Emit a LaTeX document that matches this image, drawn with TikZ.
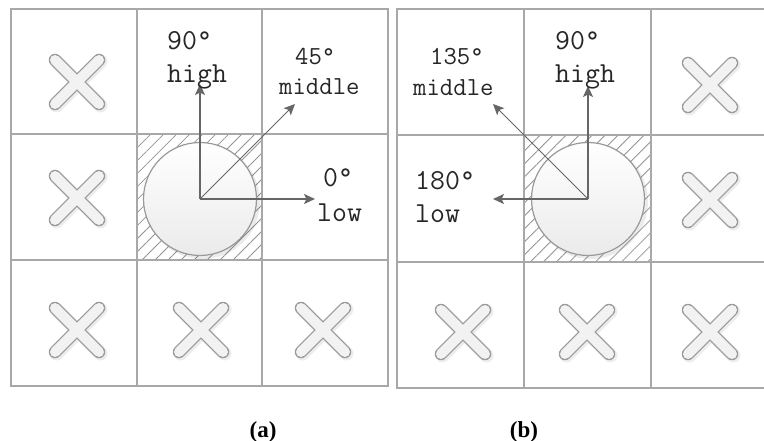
\documentclass[tikz,border=0pt]{standalone}
\usepackage{fontspec}
\setmainfont{Liberation Serif}
\usetikzlibrary{arrows.meta,patterns.meta,calc}
\definecolor{gridc}{HTML}{A8A8A8}
\definecolor{arrc}{HTML}{666666}
\definecolor{xedge}{HTML}{9A9A9A}
\definecolor{xfill}{HTML}{F2F2F2}
\newcommand{\crossmark}[1]{%
  \draw[line width=14pt,line cap=round,black,opacity=0.07] ($(#1)+(-20.5,-20.5)$) -- ($(#1)+(23.5,23.5)$) ($(#1)+(-20.5,23.5)$) -- ($(#1)+(23.5,-20.5)$);
  \draw[xarm,line width=12.5pt,xedge] ($(#1)+(-22,-22)$) -- ($(#1)+(22,22)$) ($(#1)+(-22,22)$) -- ($(#1)+(22,-22)$);
  \draw[xarm,line width=10pt,xfill] ($(#1)+(-22,-22)$) -- ($(#1)+(22,22)$) ($(#1)+(-22,22)$) -- ($(#1)+(22,-22)$);}
\tikzset{
  gridline/.style={draw=gridc,line width=1.6pt},
  hatch/.style={pattern={Lines[angle=45,distance=9.2pt,line width=0.8pt]},pattern color=gray!85},
  ball/.style={circle,inner sep=0pt,minimum size=113pt,draw=gray!80,line width=1.2pt,top color=white,bottom color=gray!16},
  arr/.style={draw=arrc,line width=1.5pt,-{Stealth[length=11pt,width=10pt,inset=2.5pt]}},
  darr/.style={draw=arrc,line width=1pt,-{Stealth[length=11pt,width=10pt,inset=2.5pt]}},
  xarm/.style={line cap=round},
  big/.style={inner sep=0pt,text=black!85,font=\ttfamily\fontsize{29}{33}\selectfont},
  mid/.style={inner sep=0pt,text=black!85,font=\ttfamily\fontsize{26}{30}\selectfont},
  captext/.style={inner sep=0pt,font=\bfseries\fontsize{23}{26}\selectfont},
}
\begin{document}
\begin{tikzpicture}[x=1pt,y=-1pt]
\useasboundingbox (0,0) rectangle (764,441);
\clip (0,0) rectangle (764,441);
% ---------- panel (a) ----------
\fill[hatch] (137,134) rectangle (262,260);
\draw[gridline] (11,9) rectangle (388,386);
\draw[gridline] (137,9) -- (137,386) (262,9) -- (262,386) (11,134) -- (388,134) (11,260) -- (388,260);
\fill[black,opacity=0.08] (202.5,201.5) circle (57.5);
\node[ball] (ba) at (200,199) {};
\coordinate (a90) at (200,84);
\coordinate (a45) at (295,104);
\coordinate (a0) at (315,199);
\draw[arr] (ba.center) -- (a90);
\draw[darr] (ba.center) -- (a45);
\draw[arr] (ba.center) -- (a0);
\node[big,anchor=base west] (ta90) at (167,50) {90°};
\node[big,anchor=base west] (tahigh) at (167,83) {high};
\node[mid,anchor=base west] (ta45) at (295,65) {45°};
\node[mid,anchor=base west] (tamid) at (279,95) {middle};
\node[big,anchor=base west] (ta0) at (323,187) {0°};
\node[big,anchor=base west] (talow) at (317,222) {low};
\coordinate (xa1) at (77,82);
\coordinate (xa2) at (77,198);
\coordinate (xa3) at (77,330);
\coordinate (xa4) at (201,330);
\coordinate (xa5) at (323,330);
\crossmark{xa1}\crossmark{xa2}\crossmark{xa3}\crossmark{xa4}\crossmark{xa5}
% ---------- panel (b) ----------
\fill[hatch] (524,135) rectangle (651,262);
\draw[gridline] (397,9) rectangle (780,388);
\draw[gridline] (524,9) -- (524,388) (651,9) -- (651,388) (397,135) -- (780,135) (397,262) -- (780,262);
\fill[black,opacity=0.08] (590.5,201.5) circle (57.5);
\node[ball] (bb) at (588,199) {};
\coordinate (b90) at (588,86);
\coordinate (b135) at (493,104);
\coordinate (b180) at (493,199);
\draw[arr] (bb.center) -- (b90);
\draw[darr] (bb.center) -- (b135);
\draw[arr] (bb.center) -- (b180);
\node[mid,anchor=base west] (tb135) at (430,65) {135°};
\node[mid,anchor=base west] (tbmid) at (413,96) {middle};
\node[big,anchor=base west] (tb90) at (555,50) {90°};
\node[big,anchor=base west] (tbhigh) at (555,83) {high};
\node[big,anchor=base west] (tb180) at (415,190) {180°};
\node[big,anchor=base west] (tblow) at (415,223) {low};
\coordinate (xb1) at (710,85);
\coordinate (xb2) at (710,200);
\coordinate (xb3) at (463,332);
\coordinate (xb4) at (587,332);
\coordinate (xb5) at (710,332);
\crossmark{xb1}\crossmark{xb2}\crossmark{xb3}\crossmark{xb4}\crossmark{xb5}
% ---------- captions ----------
\node[captext,anchor=base] (capa) at (263,437) {(a)};
\node[captext,anchor=base] (capb) at (524,437) {(b)};
\end{tikzpicture}
\end{document}
